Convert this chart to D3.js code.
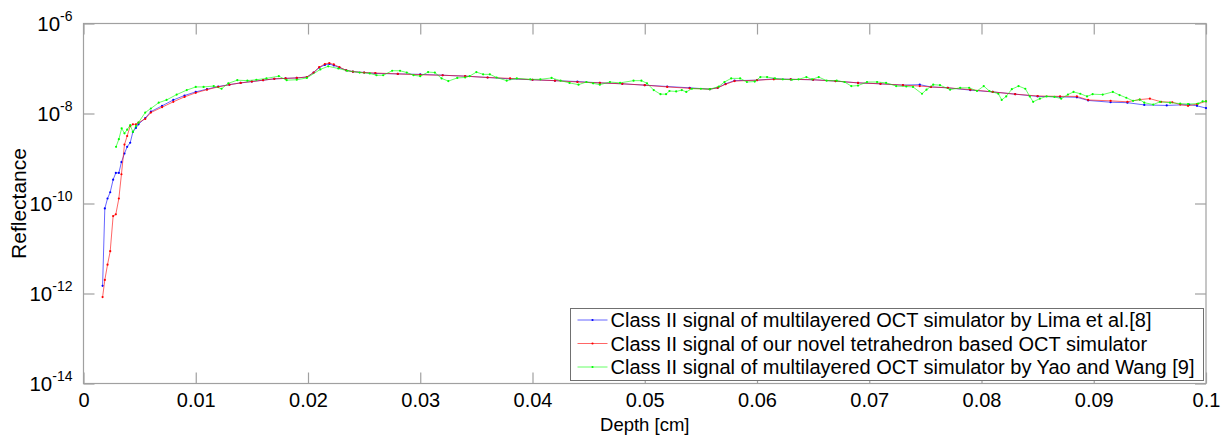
<!DOCTYPE html>
<html>
<head>
<meta charset="utf-8">
<script src="https://cdn.jsdelivr.net/npm/d3@7"></script>
<style>
  html, body { margin: 0; padding: 0; background: #fff; }
  svg { display: block; font-family: Arial, 'Liberation Sans', Helvetica, sans-serif; }
</style>
</head>
<body>
<svg id="chart" width="1226" height="438"></svg>
<script>
// Depth [cm] / reflectance
var limaDepth = [0.0017, 0.0019, 0.00214, 0.00238, 0.00264, 0.00288, 0.00315, 0.00338, 0.00365, 0.00389,
  0.00416, 0.0044, 0.00467, 0.0049, 0.0055, 0.006, 0.007, 0.008, 0.009, 0.01,
  0.011, 0.012, 0.013, 0.014, 0.015, 0.016, 0.017, 0.018, 0.019, 0.0199,
  0.0205, 0.021, 0.0215, 0.0219, 0.0223, 0.0228, 0.0234, 0.024, 0.025, 0.026,
  0.028, 0.03, 0.032, 0.034, 0.036, 0.038, 0.04, 0.042, 0.044, 0.046,
  0.048, 0.05, 0.052, 0.054, 0.0558, 0.0565, 0.0572, 0.058, 0.06, 0.0615,
  0.063, 0.065, 0.067, 0.069, 0.071, 0.073, 0.0745, 0.0755, 0.077, 0.079,
  0.081, 0.083, 0.085, 0.087, 0.0885, 0.0895, 0.0915, 0.093, 0.0945, 0.0965,
  0.0985, 0.0992, 0.1]
var limaVals = [1.48e-12, 7.76e-11, 1.29e-10, 1.78e-10, 3.39e-10, 4.79e-10, 4.79e-10, 8.32e-10, 1.29e-9, 1.82e-9,
  2.24e-9, 3.89e-9, 4.79e-9, 5.75e-9, 7.94e-9, 1.10e-8, 1.48e-8, 2.00e-8, 2.51e-8, 3.02e-8,
  3.47e-8, 3.98e-8, 4.37e-8, 4.79e-8, 5.13e-8, 5.50e-8, 5.89e-8, 6.03e-8, 6.17e-8, 6.46e-8,
  8.13e-8, 1.05e-7, 1.20e-7, 1.26e-7, 1.17e-7, 1.05e-7, 9.12e-8, 8.51e-8, 8.13e-8, 7.76e-8,
  7.59e-8, 7.41e-8, 7.08e-8, 6.76e-8, 6.31e-8, 5.89e-8, 5.62e-8, 5.37e-8, 5.13e-8, 4.79e-8,
  4.57e-8, 4.27e-8, 3.98e-8, 3.72e-8, 3.47e-8, 3.72e-8, 4.57e-8, 5.37e-8, 5.50e-8, 5.89e-8,
  5.75e-8, 5.62e-8, 5.25e-8, 4.79e-8, 4.57e-8, 4.27e-8, 4.37e-8, 3.89e-8, 3.72e-8, 3.31e-8,
  3.02e-8, 2.69e-8, 2.40e-8, 2.34e-8, 2.29e-8, 1.95e-8, 1.78e-8, 1.74e-8, 1.55e-8, 1.51e-8,
  1.58e-8, 1.48e-8, 1.32e-8]

var tetraDepth = [0.0017, 0.0019, 0.00214, 0.00238, 0.00264, 0.00288, 0.00315, 0.00338, 0.00365, 0.00389,
  0.00416, 0.0044, 0.00467, 0.0049, 0.0055, 0.006, 0.007, 0.008, 0.009, 0.01,
  0.011, 0.012, 0.013, 0.014, 0.015, 0.016, 0.017, 0.018, 0.019, 0.0199,
  0.0205, 0.021, 0.0215, 0.0219, 0.0223, 0.0228, 0.0234, 0.024, 0.025, 0.026,
  0.028, 0.03, 0.032, 0.034, 0.036, 0.038, 0.04, 0.042, 0.044, 0.046,
  0.048, 0.05, 0.052, 0.054, 0.0558, 0.0565, 0.0572, 0.058, 0.06, 0.0615,
  0.063, 0.065, 0.067, 0.069, 0.071, 0.073, 0.0745, 0.0755, 0.077, 0.079,
  0.081, 0.083, 0.085, 0.087, 0.0885, 0.0895, 0.0915, 0.093, 0.0941, 0.095,
  0.096, 0.097, 0.0977, 0.0984, 0.0992, 0.1]
var tetraVals = [8.32e-13, 2.00e-12, 4.37e-12, 8.71e-12, 5.25e-11, 5.75e-11, 1.29e-10, 4.47e-10, 2.04e-9, 3.16e-9,
  5.25e-9, 5.75e-9, 5.75e-9, 6.31e-9, 7.59e-9, 1.05e-8, 1.38e-8, 1.82e-8, 2.34e-8, 2.88e-8,
  3.39e-8, 3.89e-8, 4.37e-8, 4.79e-8, 5.13e-8, 5.50e-8, 5.89e-8, 6.03e-8, 6.17e-8, 6.46e-8,
  8.13e-8, 1.07e-7, 1.26e-7, 1.32e-7, 1.23e-7, 1.07e-7, 9.12e-8, 8.51e-8, 8.13e-8, 7.94e-8,
  7.59e-8, 7.24e-8, 7.08e-8, 6.76e-8, 6.31e-8, 6.03e-8, 5.62e-8, 5.37e-8, 5.01e-8, 4.79e-8,
  4.57e-8, 4.27e-8, 3.89e-8, 3.63e-8, 3.47e-8, 3.72e-8, 4.47e-8, 5.25e-8, 5.50e-8, 5.75e-8,
  5.75e-8, 5.62e-8, 5.25e-8, 4.79e-8, 4.57e-8, 4.27e-8, 4.07e-8, 3.89e-8, 3.72e-8, 3.39e-8,
  3.02e-8, 2.69e-8, 2.45e-8, 2.40e-8, 2.40e-8, 2.00e-8, 1.91e-8, 1.82e-8, 2.04e-8, 2.14e-8,
  1.82e-8, 1.78e-8, 1.58e-8, 1.48e-8, 1.62e-8, 1.86e-8]

var yaoDepth = [0.0029, 0.00315, 0.0034, 0.00365, 0.00389, 0.00416, 0.0044, 0.00467, 0.0049, 0.0055,
  0.006, 0.0067, 0.0074, 0.0083, 0.0092, 0.01, 0.0107, 0.0116, 0.0123, 0.0129,
  0.0137, 0.0146, 0.0154, 0.0163, 0.0174, 0.0181, 0.019, 0.0199, 0.0211, 0.0218,
  0.0227, 0.0235, 0.0246, 0.0255, 0.0261, 0.0267, 0.0275, 0.0282, 0.0288, 0.0294,
  0.03, 0.0307, 0.0313, 0.0319, 0.0325, 0.0333, 0.034, 0.0344, 0.035, 0.0356,
  0.0362, 0.0368, 0.0377, 0.0386, 0.0398, 0.0407, 0.0417, 0.0425, 0.0433, 0.0441,
  0.0448, 0.0454, 0.046, 0.0469, 0.0478, 0.049, 0.0497, 0.0502, 0.0508, 0.0514,
  0.0519, 0.0522, 0.0528, 0.0533, 0.0537, 0.0542, 0.055, 0.0558, 0.0566, 0.0571,
  0.0577, 0.0585, 0.0591, 0.0598, 0.0603, 0.0609, 0.0616, 0.0623, 0.0631, 0.0637,
  0.0644, 0.0649, 0.0655, 0.0662, 0.0671, 0.0678, 0.0684, 0.069, 0.0698, 0.0707,
  0.0715, 0.0724, 0.0733, 0.0739, 0.0747, 0.0751, 0.0757, 0.0763, 0.0772, 0.0781,
  0.0789, 0.0796, 0.0802, 0.0807, 0.0815, 0.0818, 0.0822, 0.0827, 0.0833, 0.0839,
  0.0843, 0.0846, 0.0852, 0.0858, 0.0865, 0.0871, 0.0877, 0.0882, 0.0888, 0.0894,
  0.0899, 0.0908, 0.0917, 0.0923, 0.0929, 0.0935, 0.0941, 0.0945, 0.0953, 0.0959,
  0.0968, 0.0977, 0.0984, 0.0993, 0.0997, 0.1]
var yaoVals = [1.82e-9, 2.69e-9, 4.68e-9, 3.63e-9, 4.37e-9, 5.50e-9, 3.89e-9, 5.25e-9, 6.31e-9, 1.05e-8,
  1.29e-8, 1.74e-8, 2.00e-8, 2.63e-8, 3.31e-8, 3.89e-8, 3.89e-8, 4.07e-8, 3.55e-8, 4.68e-8,
  5.50e-8, 5.37e-8, 5.62e-8, 6.03e-8, 6.76e-8, 5.50e-8, 5.62e-8, 6.17e-8, 9.55e-8, 1.12e-7,
  1.00e-7, 8.91e-8, 8.13e-8, 7.76e-8, 7.08e-8, 7.08e-8, 8.91e-8, 8.91e-8, 8.13e-8, 7.08e-8,
  6.76e-8, 8.32e-8, 8.13e-8, 6.03e-8, 5.25e-8, 6.17e-8, 6.31e-8, 6.76e-8, 8.32e-8, 7.41e-8,
  7.41e-8, 6.31e-8, 5.37e-8, 6.03e-8, 5.75e-8, 5.75e-8, 6.17e-8, 5.37e-8, 4.79e-8, 4.37e-8,
  5.01e-8, 4.68e-8, 4.37e-8, 5.01e-8, 4.79e-8, 5.37e-8, 5.37e-8, 4.68e-8, 3.31e-8, 2.69e-8,
  2.69e-8, 3.16e-8, 3.09e-8, 3.31e-8, 3.02e-8, 3.55e-8, 3.55e-8, 3.47e-8, 3.98e-8, 5.01e-8,
  6.03e-8, 6.03e-8, 5.01e-8, 5.13e-8, 6.46e-8, 6.46e-8, 6.03e-8, 5.75e-8, 5.62e-8, 5.75e-8,
  6.46e-8, 5.75e-8, 6.46e-8, 5.37e-8, 5.37e-8, 5.01e-8, 4.07e-8, 4.17e-8, 5.01e-8, 5.01e-8,
  4.79e-8, 4.07e-8, 3.98e-8, 3.89e-8, 2.75e-8, 3.39e-8, 4.37e-8, 4.27e-8, 3.39e-8, 3.72e-8,
  3.72e-8, 3.16e-8, 4.07e-8, 3.16e-8, 2.75e-8, 2.00e-8, 2.40e-8, 3.47e-8, 4.07e-8, 3.55e-8,
  2.40e-8, 1.82e-8, 2.14e-8, 2.40e-8, 2.34e-8, 2.14e-8, 2.63e-8, 3.02e-8, 2.75e-8, 2.40e-8,
  2.69e-8, 2.63e-8, 3.02e-8, 2.57e-8, 2.24e-8, 1.91e-8, 2.04e-8, 1.74e-8, 1.58e-8, 1.82e-8,
  1.74e-8, 1.66e-8, 1.62e-8, 1.66e-8, 1.86e-8, 1.86e-8]

var xTicks = [0, 0.01, 0.02, 0.03, 0.04, 0.05, 0.06, 0.07, 0.08, 0.09, 0.1]
var yTickExps = [-14, -12, -10, -8, -6]

var seriesNames = [
  'Class II signal of multilayered OCT simulator by Lima et al.[8]',
  'Class II signal of our novel tetrahedron based OCT simulator',
  'Class II signal of multilayered OCT simulator by Yao and Wang [9]'
]
var seriesColors = ['#0000ff', '#ff0000', '#00ff00']

var series = [
  { name: seriesNames[0], color: seriesColors[0], depth: limaDepth, vals: limaVals },
  { name: seriesNames[1], color: seriesColors[1], depth: tetraDepth, vals: tetraVals },
  { name: seriesNames[2], color: seriesColors[2], depth: yaoDepth, vals: yaoVals }
]

var margin = { top: 23.5, right: 20, bottom: 54.5, left: 83.5 }
var svg = d3.select('#chart')
var width = 1226 - margin.left - margin.right
var height = 438 - margin.top - margin.bottom
var axisColor = '#a0a0a0'
var font = 'Arial, "Liberation Sans", sans-serif'

var x = d3.scaleLinear().domain([0, 0.1]).range([0, width])
var y = d3.scaleLog().domain([1e-14, 1e-6]).range([height, 0])

var g = svg.append('g')
  .attr('transform', 'translate(' + margin.left + ',' + margin.top + ')')

// frame
g.append('rect')
  .attr('width', width)
  .attr('height', height)
  .attr('fill', 'none')
  .attr('stroke', axisColor)
  .attr('stroke-width', 1.2)

var xFmt = function (d) { return d === 0 ? '0' : String(+d.toFixed(2)) }

var xAxis = g.append('g')
  .attr('transform', 'translate(0,' + height + ')')
  .call(d3.axisBottom(x).tickValues(xTicks).tickSize(-11).tickPadding(9).tickFormat(xFmt))
g.append('g')
  .call(d3.axisTop(x).tickValues(xTicks).tickSize(-11).tickFormat(''))

var yVals = yTickExps.map(function (e) { return Math.pow(10, e) })
var yAxis = g.append('g')
  .call(d3.axisLeft(y).tickValues(yVals).tickSize(-11).tickFormat(''))
g.append('g')
  .attr('transform', 'translate(' + width + ',0)')
  .call(d3.axisRight(y).tickValues(yVals).tickSize(-11).tickFormat(''))

g.selectAll('.domain').remove()
g.selectAll('.tick line').attr('stroke', axisColor).attr('stroke-width', 1.2)

xAxis.selectAll('text')
  .attr('font-size', 20)
  .attr('fill', '#000')
  .attr('font-family', font)

// y labels as 10 with a superscript exponent
yAxis.selectAll('.tick').each(function (d, i) {
  var t = d3.select(this).append('text')
    .attr('x', -11)
    .attr('dy', '0.36em')
    .attr('text-anchor', 'end')
    .attr('fill', '#000')
    .attr('font-size', 20.5)
    .attr('font-family', font)
  t.append('tspan').text('10')
  t.append('tspan')
    .attr('font-size', 14)
    .attr('dy', '-0.75em')
    .text(String(yTickExps[i]))
})

// series
var line = d3.line()
  .x(function (d) { return x(d[0]) })
  .y(function (d) { return y(d[1]) })

var plot = g.append('g')
series.forEach(function (s) {
  var pts = s.depth.map(function (d, i) { return [d, s.vals[i]] })
  var sg = plot.append('g')
  sg.append('path')
    .datum(pts)
    .attr('fill', 'none')
    .attr('stroke', s.color)
    .attr('stroke-opacity', 0.6)
    .attr('stroke-width', 1)
    .attr('d', line)
  sg.selectAll('circle')
    .data(pts)
    .join('circle')
    .attr('cx', function (d) { return x(d[0]) })
    .attr('cy', function (d) { return y(d[1]) })
    .attr('r', 1.1)
    .attr('fill', s.color)
})

// axis titles
svg.append('text')
  .attr('x', margin.left + width / 2)
  .attr('y', 431)
  .attr('text-anchor', 'middle')
  .attr('font-size', 18.5)
  .attr('font-family', font)
  .attr('fill', '#000')
  .text('Depth [cm]')

svg.append('text')
  .attr('transform', 'translate(26,' + (margin.top + height / 2) + ') rotate(-90)')
  .attr('text-anchor', 'middle')
  .attr('font-size', 21)
  .attr('font-family', font)
  .attr('fill', '#000')
  .text('Reflectance')

// legend
var legend = svg.append('g').attr('transform', 'translate(570.5,308.5)')
legend.append('rect')
  .attr('width', 633)
  .attr('height', 72)
  .attr('fill', '#fff')
  .attr('stroke', '#707070')
  .attr('stroke-width', 1)

var item = legend.selectAll('g.item')
  .data(series)
  .join('g')
  .attr('class', 'item')
  .attr('transform', function (d, i) { return 'translate(0,' + (11.5 + i * 23.5) + ')' })

item.append('line')
  .attr('x1', 7).attr('x2', 37)
  .attr('stroke', function (d) { return d.color })
  .attr('stroke-opacity', 0.6)
  .attr('stroke-width', 1)
item.append('circle')
  .attr('cx', 22)
  .attr('r', 1.1)
  .attr('fill', function (d) { return d.color })
item.append('text')
  .attr('x', 40)
  .attr('dy', '0.36em')
  .attr('font-size', 20)
  .attr('font-family', font)
  .attr('fill', '#000')
  .text(function (d) { return d.name })
</script>
</body>
</html>
